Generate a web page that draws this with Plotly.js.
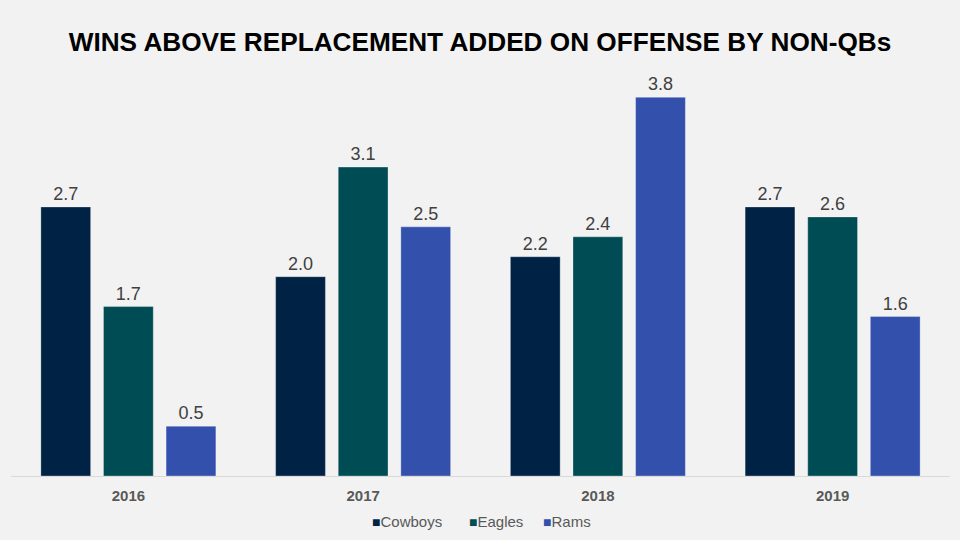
<!DOCTYPE html>
<html>
<head>
<meta charset="utf-8">
<script src="https://cdn.plot.ly/plotly-3.0.1.min.js"></script>
<style>html,body{margin:0;padding:0;background:#f2f2f2;}#chart{width:960px;height:540px;}</style>
</head>
<body>
<div id="chart"></div>
<script>
const years = ["2016", "2017", "2018", "2019"];
const cowboys = [2.7, 2.0, 2.2, 2.7];
const eagles = [1.7, 3.1, 2.4, 2.6];
const rams = [0.5, 2.5, 3.8, 1.6];
const seriesNames = ["Cowboys", "Eagles", "Rams"];
const seriesColors = ["#002244", "#004C54", "#3450AD"];

const allValues = [cowboys, eagles, rams];
const traces = allValues.map((vals, i) => ({
  type: "bar",
  name: seriesNames[i],
  x: years,
  y: vals,
  marker: {color: seriesColors[i], line: {color: "rgba(255,255,255,0.5)", width: 0.6}},
  text: vals.map(v => v.toFixed(1)),
  textposition: "outside",
  cliponaxis: false,
  textfont: {family: "Liberation Sans, Arial, sans-serif", size: 18, color: "#404040"},
  hoverinfo: "skip",
  showlegend: false
}));

// legend item left edges in pixels (layout only)
const legendLeftPx = [370, 467, 541];
const annotations = seriesNames.map((n, i) => ({
  xref: "paper", yref: "paper",
  x: (legendLeftPx[i] - 11) / 939, y: -0.113, xanchor: "left", yanchor: "middle",
  showarrow: false,
  text: `<span style="color:${seriesColors[i]};font-size:14px">■</span>${n}`,
  font: {family: "Liberation Sans, Arial, sans-serif", size: 15, color: "#595959"}
}));

const layout = {
  width: 960, height: 540,
  paper_bgcolor: "#f2f2f2",
  plot_bgcolor: "#f2f2f2",
  margin: {l: 11, r: 10, t: 76, b: 64},
  title: {
    text: "<b>WINS ABOVE REPLACEMENT ADDED ON OFFENSE BY NON-QBs</b>",
    font: {family: "Liberation Sans, Arial, sans-serif", size: 26.2, color: "#000000"},
    x: 0.5, xanchor: "center", y: 0.922, yanchor: "middle"
  },
  barmode: "group",
  bargap: 0.2,
  bargroupgap: 0.205,
  xaxis: {
    type: "category",
    showline: true, linecolor: "#d9d9d9", linewidth: 1,
    showgrid: false, ticks: "",
    ticklabelstandoff: 6,
    tickfont: {family: "Liberation Sans, Arial, sans-serif", size: 15, color: "#595959", weight: "bold"}
  },
  yaxis: {
    range: [0, 4.014],
    visible: false, showgrid: false, zeroline: false
  },
  annotations: annotations
};

Plotly.newPlot("chart", traces, layout, {displayModeBar: false, staticPlot: true});
</script>
</body>
</html>
